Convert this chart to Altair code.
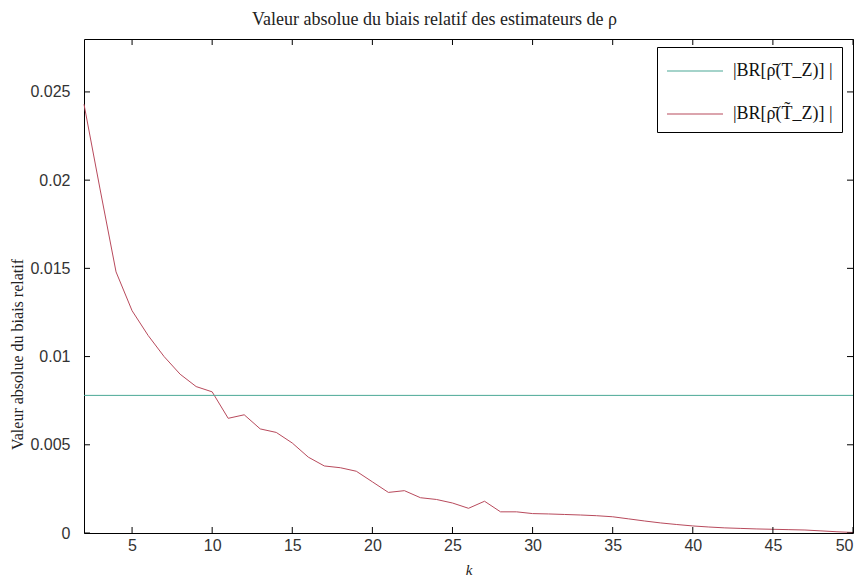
import altair as alt
import pandas as pd

k = list(range(2, 51))
red = [0.0243, 0.0195, 0.0148, 0.0126, 0.0112, 0.0100, 0.0090, 0.0083, 0.0080,
       0.0065, 0.0067, 0.0059, 0.0057, 0.0051, 0.0043, 0.0038, 0.0037, 0.0035,
       0.0029, 0.0023, 0.0024, 0.0020, 0.0019, 0.0017, 0.0014, 0.0018, 0.0012,
       0.0012, 0.0011, 0.00108, 0.00105, 0.00102, 0.00098, 0.00092, 0.00080,
       0.00068, 0.00057, 0.00048, 0.00040, 0.00034, 0.00029, 0.00026, 0.00023,
       0.00021, 0.00019, 0.00017, 0.00012, 0.00007, 0.00003]
green_k = [2, 50]
green = [0.0078, 0.0078]
labels = ["|BR[ρ̄(T_Z)] |", "|BR[ρ̄(T̃_Z)] |"]
colors = ["#4aa896", "#b84a5c"]
xticks = [5, 10, 15, 20, 25, 30, 35, 40, 45, 50]
yticks = [0, 0.005, 0.01, 0.015, 0.02, 0.025]

W, H = 769, 494

df = pd.DataFrame({
    "k": k + green_k,
    "v": red + green,
    "s": [labels[1]] * len(k) + [labels[0]] * len(green_k),
})
xt = pd.DataFrame({"k": xticks})
yt = pd.DataFrame({"v": yticks})

xs = alt.Scale(domain=[2, 50], nice=False, zero=False)
ys = alt.Scale(domain=[0, 0.028], nice=False)

x_axis = alt.Axis(
    values=xticks, title="k", titleFont="Liberation Serif", titleFontStyle="italic",
    titleFontWeight="normal", titleFontSize=15, titleY=36, titleBaseline="middle",
    titleColor="#222")
y_axis = alt.Axis(
    values=yticks, format="~g", title="Valeur absolue du biais relatif",
    titleFont="Liberation Serif", titleFontWeight="normal", titleFontSize=16,
    titleX=-67, titleY=315, titleAlign="center", titleBaseline="middle",
    titleColor="#222")

lines = alt.Chart(df).mark_line(strokeWidth=1).encode(
    x=alt.X("k:Q", scale=xs, axis=x_axis),
    y=alt.Y("v:Q", scale=ys, axis=y_axis),
    color=alt.Color("s:N", scale=alt.Scale(domain=labels, range=colors),
                    legend=alt.Legend(
                        title=None, orient="none", legendX=573, legendY=8,
                        strokeColor="black", fillColor="white", padding=9,
                        symbolType="M-1,0H3", symbolSize=784, symbolStrokeWidth=1.2,
                        labelFont="Liberation Serif", labelFontSize=18,
                        labelColor="#111", labelOffset=37, rowPadding=19)),
)

tick_b = alt.Chart(xt).mark_rule(color="black").encode(
    x=alt.X("k:Q", scale=xs, axis=x_axis), y=alt.value(H), y2=alt.value(H - 6))
tick_t = alt.Chart(xt).mark_rule(color="black").encode(
    x=alt.X("k:Q", scale=xs, axis=x_axis), y=alt.value(0), y2=alt.value(6))
tick_l = alt.Chart(yt).mark_rule(color="black").encode(
    y=alt.Y("v:Q", scale=ys, axis=y_axis), x=alt.value(0), x2=alt.value(6))
tick_r = alt.Chart(yt).mark_rule(color="black").encode(
    y=alt.Y("v:Q", scale=ys, axis=y_axis), x=alt.value(W), x2=alt.value(W - 6))

chart = alt.layer(lines, tick_b, tick_t, tick_l, tick_r).properties(
    width=W, height=H,
    title=alt.TitleParams(
        "Valeur absolue du biais relatif des estimateurs de ρ",
        font="Liberation Serif", fontSize=18, fontWeight="normal", color="#222",
        anchor="middle", dx=-34, offset=10),
    autosize=alt.AutoSizeParams(type="none"),
    padding={"left": 76, "top": 31, "right": 4, "bottom": 46},
).configure_view(stroke="black", strokeWidth=1).configure_axis(
    domain=False, grid=False, ticks=False, labelFont="Liberation Sans",
    labelFontSize=16, labelColor="#333", labelPadding=4,
).configure_axisY(labelPadding=14)

chart.save("out.html", embed_options={"renderer": "svg", "actions": False})
